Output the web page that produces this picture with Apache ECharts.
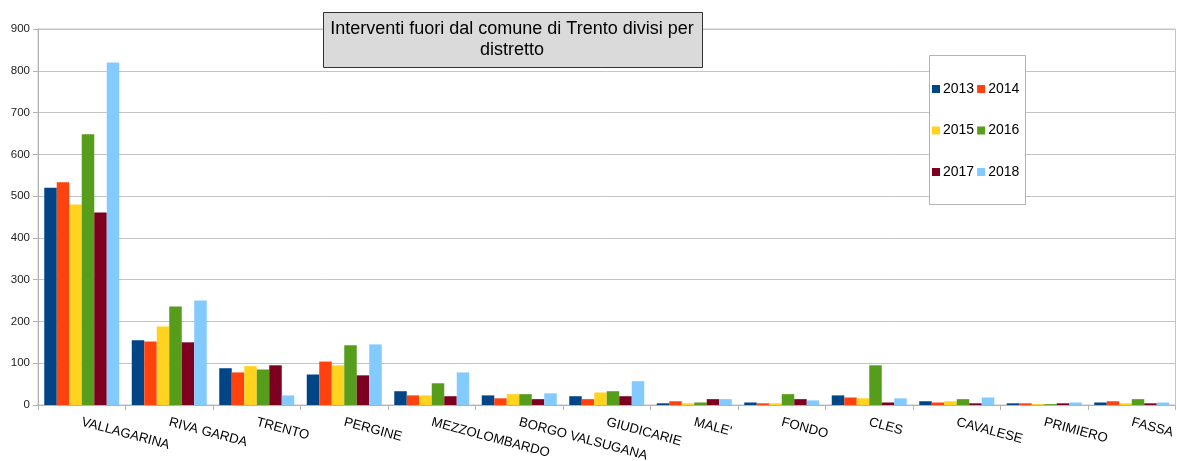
<!DOCTYPE html>
<html>
<head>
<meta charset="utf-8">
<script src="https://cdn.jsdelivr.net/npm/echarts@6/dist/echarts.min.js"></script>
<style>
  html, body { margin: 0; padding: 0; background: #ffffff; }
  #chart { width: 1177px; height: 461px; }
</style>
</head>
<body>
<div id="chart"></div>
<script>
// Districts (categories on the x axis)
const districts = ['VALLAGARINA', 'RIVA GARDA', 'TRENTO', 'PERGINE', 'MEZZOLOMBARDO', 'BORGO VALSUGANA',
  'GIUDICARIE', "MALE'", 'FONDO', 'CLES', 'CAVALESE', 'PRIMIERO', 'FASSA'];

// Interventions per district, one array per year
const y2013 = [520, 155, 88, 73, 33, 23, 21, 4, 6, 23, 9, 4, 6];
const y2014 = [533, 152, 78, 104, 23, 16, 14, 9, 4, 18, 6, 4, 9];
const y2015 = [480, 188, 93, 95, 23, 26, 30, 4, 4, 16, 9, 2, 4];
const y2016 = [648, 236, 85, 143, 52, 26, 33, 6, 26, 95, 14, 2, 14];
const y2017 = [461, 150, 95, 71, 21, 14, 21, 14, 14, 6, 4, 4, 4];
const y2018 = [820, 250, 23, 145, 78, 28, 57, 14, 11, 16, 18, 6, 6];

const years = ['2013', '2014', '2015', '2016', '2017', '2018'];
const yearValues = [y2013, y2014, y2015, y2016, y2017, y2018];
const yearColors = ['#004586', '#ff420e', '#ffd320', '#579d1c', '#7e0021', '#83caff'];

// Value axis
const yMin = 0, yMax = 900, yStep = 100;

const titleLines = ['Interventi fuori dal comune di Trento divisi per', 'distretto'];

const FONT = '"Liberation Sans", Arial, sans-serif';

const chart = echarts.init(document.getElementById('chart'), null, { renderer: 'canvas' });

const legendRows = [['2013', '2014'], ['2015', '2016'], ['2017', '2018']];
const legendTops = [82, 123.5, 165];

const option = {
  animation: false,
  backgroundColor: '#ffffff',
  textStyle: { fontFamily: FONT },
  grid: {
    left: 38, top: 29, width: 1137.5, height: 376,
    containLabel: false, outerBoundsMode: 'none',
    show: true, borderColor: '#c4c4c4', borderWidth: 1, backgroundColor: 'transparent'
  },
  xAxis: {
    type: 'category',
    data: districts,
    axisLine: { lineStyle: { color: '#b3b3b3', width: 1 } },
    axisTick: { show: true, length: 5, lineStyle: { color: '#b3b3b3' } },
    axisLabel: {
      interval: 0, rotate: -15, margin: 17,
      color: '#000000', fontSize: 13.2, fontFamily: FONT
    },
    splitLine: { show: false }
  },
  yAxis: {
    type: 'value',
    min: yMin, max: yMax, interval: yStep,
    axisLine: { show: true, lineStyle: { color: '#b3b3b3', width: 1 } },
    axisTick: { show: true, length: 5, lineStyle: { color: '#b3b3b3' } },
    axisLabel: { color: '#222222', fontSize: 11.5, margin: 8, fontFamily: FONT },
    splitLine: { show: true, lineStyle: { color: '#c4c4c4', width: 1 } }
  },
  legend: legendRows.map((row, i) => ({
    data: row,
    orient: 'horizontal',
    left: 932,
    top: legendTops[i],
    icon: 'rect',
    itemWidth: 8,
    itemHeight: 8,
    itemGap: 3,
    padding: 0,
    z: 10,
    selectedMode: false,
    textStyle: { color: '#000000', fontSize: 14, fontFamily: FONT, padding: [0, 0, 0, -2] }
  })),
  graphic: [
    {
      type: 'rect', z: 5,
      shape: { x: 929.5, y: 55.5, width: 96, height: 149 },
      style: { fill: '#ffffff', stroke: '#b3b3b3', lineWidth: 1 }
    },
    {
      type: 'rect', z: 5,
      shape: { x: 323.5, y: 12.5, width: 379, height: 55 },
      style: { fill: '#dadada', stroke: '#333333', lineWidth: 1 }
    },
    {
      type: 'text', z: 6,
      x: 512, y: 19,
      style: {
        text: titleLines.join('\n'),
        fill: '#000000',
        font: '18px ' + FONT,
        lineHeight: 21,
        align: 'center',
        verticalAlign: 'top'
      }
    }
  ],
  series: years.map((yr, i) => ({
    name: yr,
    type: 'bar',
    data: yearValues[i],
    barGap: '0%',
    barCategoryGap: '14.3%',
    itemStyle: { color: yearColors[i] }
  }))
};

chart.setOption(option);
</script>
</body>
</html>
